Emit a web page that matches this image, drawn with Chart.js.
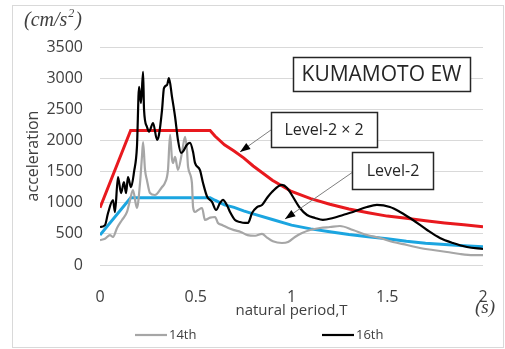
<!DOCTYPE html>
<html>
<head>
<meta charset="utf-8">
<script src="https://cdn.jsdelivr.net/npm/chart.js@4/dist/chart.umd.min.js"></script>
<style>
  html, body { margin: 0; padding: 0; background: #fff; }
  #wrap { width: 505px; height: 349px; position: relative; }
</style>
</head>
<body>
<div id="wrap"><canvas id="spec-chart"></canvas></div>
<script>
// natural period T (s) and response acceleration (cm/s^2)
const t16 = [0, 0.026, 0.042, 0.068, 0.078, 0.094, 0.110, 0.125, 0.136, 0.146, 0.162, 0.178, 0.193, 0.204, 0.214, 0.225, 0.230, 0.245, 0.256, 0.277, 0.298, 0.308, 0.324, 0.334, 0.350, 0.360, 0.376, 0.392, 0.407, 0.423, 0.433, 0.454, 0.470, 0.486, 0.496, 0.522, 0.538, 0.559, 0.585, 0.606, 0.627, 0.642, 0.663, 0.679, 0.705, 0.731, 0.757, 0.773, 0.794, 0.820, 0.846, 0.872, 0.898, 0.950, 0.977, 1.008, 1.044, 1.081, 1.123, 1.164, 1.217, 1.269, 1.321, 1.394, 1.446, 1.514, 1.567, 1.634, 1.708, 1.775, 1.843, 1.916, 2.0];
const a16 = [610, 640, 835, 1040, 850, 1410, 1155, 1330, 1155, 1410, 1250, 1500, 1900, 2860, 2600, 3100, 2490, 2220, 2140, 2280, 2010, 2090, 2490, 2840, 2890, 3000, 2700, 2380, 2010, 1800, 1820, 1930, 1960, 1815, 1640, 1525, 1317, 1100, 1012, 883, 996, 1044, 960, 851, 723, 690, 675, 675, 835, 930, 964, 1076, 1172, 1285, 1237, 1092, 915, 803, 755, 723, 755, 803, 851, 931, 964, 931, 851, 723, 562, 434, 353, 289, 257];

const t14 = [0, 0.026, 0.052, 0.068, 0.089, 0.115, 0.141, 0.157, 0.172, 0.193, 0.209, 0.219, 0.225, 0.235, 0.245, 0.261, 0.287, 0.324, 0.339, 0.355, 0.366, 0.376, 0.381, 0.392, 0.407, 0.428, 0.444, 0.454, 0.460, 0.480, 0.486, 0.496, 0.512, 0.533, 0.548, 0.575, 0.601, 0.616, 0.640, 0.670, 0.700, 0.735, 0.770, 0.810, 0.846, 0.872, 0.903, 0.950, 0.982, 1.018, 1.055, 1.097, 1.149, 1.201, 1.253, 1.321, 1.394, 1.462, 1.530, 1.603, 1.671, 1.739, 1.812, 1.880, 1.948, 2.0];
const a14 = [400, 420, 480, 450, 594, 723, 851, 1044, 1204, 915, 1317, 1735, 1975, 1530, 1365, 1156, 1124, 1253, 1317, 1526, 2088, 1700, 1638, 1735, 1526, 1800, 2056, 1850, 1574, 1317, 931, 851, 883, 915, 723, 760, 771, 675, 640, 594, 560, 530, 480, 470, 500, 440, 380, 353, 369, 450, 514, 562, 594, 610, 626, 562, 482, 434, 369, 321, 273, 241, 209, 177, 160, 160];

const tLevel = [0, 0.16, 0.575, 0.6, 0.65, 0.7, 0.75, 0.8, 0.9, 1.0, 1.1, 1.2, 1.3, 1.4, 1.5, 1.6, 1.7, 1.8, 1.9, 2.0];
const aLevel2x2 = [920, 2160, 2160, 2070, 1930, 1830, 1720, 1590, 1360, 1180, 1065, 975, 900, 840, 785, 750, 710, 675, 645, 615];
const aLevel2 = [480, 1080, 1080, 1040, 965, 925, 870, 820, 730, 640, 580, 535, 490, 455, 420, 380, 350, 330, 310, 292];

const xTicks = [0, 0.5, 1, 1.5, 2];
const yMax = 3500, yStep = 500;

function pts(ts, vs) { return ts.map((t, i) => ({ x: t, y: vs[i] })); }

const FONT = '"Open Sans", "Noto Sans", sans-serif';
const SERIF = '"Liberation Serif", "DejaVu Serif", serif';
const TXT = '#404040';

// text boxes and arrows, anchored in data units (T, acceleration)
const boxes = [
  { text: 'KUMAMOTO EW', x: 1.47, y: 3070, w: 177, h: 34, size: 21 },
  { text: 'Level-2 \u00d7 2', x: 1.17, y: 2176, w: 106, h: 35, size: 16 },
  { text: 'Level-2', x: 1.53, y: 1518, w: 81, h: 37, size: 16 }
];
const arrows = [
  { x1: 0.893, y1: 2168, x2: 0.731, y2: 1815 },
  { x1: 1.321, y1: 1494, x2: 0.966, y2: 739 }
];

const decor = {
  id: 'decor',
  beforeDraw(chart) {
    const c = chart.ctx;
    c.save();
    c.fillStyle = '#fff';
    c.fillRect(0, 0, chart.width, chart.height);
    c.restore();
  },
  afterDraw(chart) {
    const c = chart.ctx, xs = chart.scales.x, ys = chart.scales.y;
    const ca = chart.chartArea;
    c.save();
    // outer frame
    c.strokeStyle = '#d9d9d9';
    c.lineWidth = 1;
    c.strokeRect(12.5, 5.5, 491, 342);

    // arrows
    c.strokeStyle = '#7f7f7f';
    c.fillStyle = '#000';
    c.lineWidth = 1;
    arrows.forEach(a => {
      const x1 = xs.getPixelForValue(a.x1), y1 = ys.getPixelForValue(a.y1);
      const x2 = xs.getPixelForValue(a.x2), y2 = ys.getPixelForValue(a.y2);
      const ang = Math.atan2(y2 - y1, x2 - x1);
      c.beginPath(); c.moveTo(x1, y1); c.lineTo(x2, y2); c.stroke();
      c.beginPath();
      c.moveTo(x2, y2);
      c.lineTo(x2 - 11 * Math.cos(ang - 0.35), y2 - 11 * Math.sin(ang - 0.35));
      c.lineTo(x2 - 11 * Math.cos(ang + 0.35), y2 - 11 * Math.sin(ang + 0.35));
      c.closePath(); c.fill();
    });

    // boxes
    boxes.forEach(b => {
      const cx = xs.getPixelForValue(b.x), cy = ys.getPixelForValue(b.y);
      c.fillStyle = '#fff';
      c.fillRect(cx - b.w / 2, cy - b.h / 2, b.w, b.h);
      c.strokeStyle = '#262626';
      c.lineWidth = 1.5;
      c.strokeRect(Math.round(cx - b.w / 2) + 0.5, Math.round(cy - b.h / 2) + 0.5, b.w, b.h);
      c.fillStyle = '#262626';
      c.font = b.size + 'px ' + FONT;
      c.textAlign = 'center';
      c.textBaseline = 'middle';
      c.fillText(b.text, cx, cy + 1);
    });

    // unit labels
    c.fillStyle = TXT;
    c.font = 'italic 20px ' + SERIF;
    c.textAlign = 'left';
    c.textBaseline = 'middle';
    let ux = 24;
    c.fillText('(cm/s', ux, 21);
    ux += c.measureText('(cm/s').width;
    c.font = 'italic 12px ' + SERIF;
    c.fillText('2', ux + 1, 14);
    ux += c.measureText('2').width + 2;
    c.font = 'italic 20px ' + SERIF;
    c.fillText(')', ux, 21);

    c.font = 'italic 19px ' + SERIF;
    c.textAlign = 'center';
    c.fillText('(s)', ca.right + 2, 308);

    // axis titles
    c.font = '15px ' + FONT;
    c.fillText('natural period,T', (ca.left + ca.right) / 2, 311);
    c.font = '16px ' + FONT;
    c.save();
    c.translate(33, 156);
    c.rotate(-Math.PI / 2);
    c.fillText('acceleration', 0, 0);
    c.restore();

    // legend
    const legendItems = [
      { ds: chart.data.datasets[1], x: 135 },
      { ds: chart.data.datasets[0], x: 322 }
    ];
    legendItems.forEach(it => {
      c.strokeStyle = it.ds.borderColor;
      c.lineWidth = it.ds.borderWidth;
      c.beginPath(); c.moveTo(it.x, 335); c.lineTo(it.x + 32, 335); c.stroke();
      c.fillStyle = TXT;
      c.font = '13px ' + FONT;
      c.textAlign = 'left';
      c.fillText(it.ds.label, it.x + 34, 335);
    });
    c.restore();
  }
};

const data = {
  datasets: [
    { label: '16th', data: pts(t16, a16), borderColor: '#000000', borderWidth: 2.2, cubicInterpolationMode: 'monotone' },
    { label: '14th', data: pts(t14, a14), borderColor: '#a6a6a6', borderWidth: 2.2, cubicInterpolationMode: 'monotone' },
    { label: 'Level-2 \u00d7 2', data: pts(tLevel, aLevel2x2), borderColor: '#e8191e', borderWidth: 3, tension: 0 },
    { label: 'Level-2', data: pts(tLevel, aLevel2), borderColor: '#1ba5e0', borderWidth: 3, tension: 0 }
  ]
};

const config = {
  type: 'line',
  data: data,
  plugins: [decor],
  options: {
    responsive: false,
    animation: false,
    layout: { padding: { left: 0, right: 22, top: 47, bottom: 0 } },
    elements: { point: { radius: 0 } },
    plugins: { legend: { display: false }, tooltip: { enabled: false } },
    scales: {
      x: {
        type: 'linear',
        min: 0, max: 2,
        grid: { display: false },
        border: { display: false },
        afterFit: s => { s.height = 84; },
        afterBuildTicks: s => { s.ticks = xTicks.map(v => ({ value: v })); },
        ticks: { color: TXT, padding: 15, font: { family: FONT, size: 16 }, maxRotation: 0,
          callback: v => String(v) }
      },
      y: {
        min: 0, max: yMax,
        grid: { color: '#d9d9d9', drawTicks: false },
        border: { display: false },
        afterFit: s => { s.width = 100; },
        ticks: { stepSize: yStep, color: TXT, padding: 17, font: { family: FONT, size: 16 },
          callback: v => String(v) }
      }
    }
  }
};

const canvas = document.getElementById('spec-chart');
canvas.width = 505; canvas.height = 349;
canvas.style.width = '505px'; canvas.style.height = '349px';
const specChart = new Chart(canvas.getContext('2d'), config);
</script>
</body>
</html>
